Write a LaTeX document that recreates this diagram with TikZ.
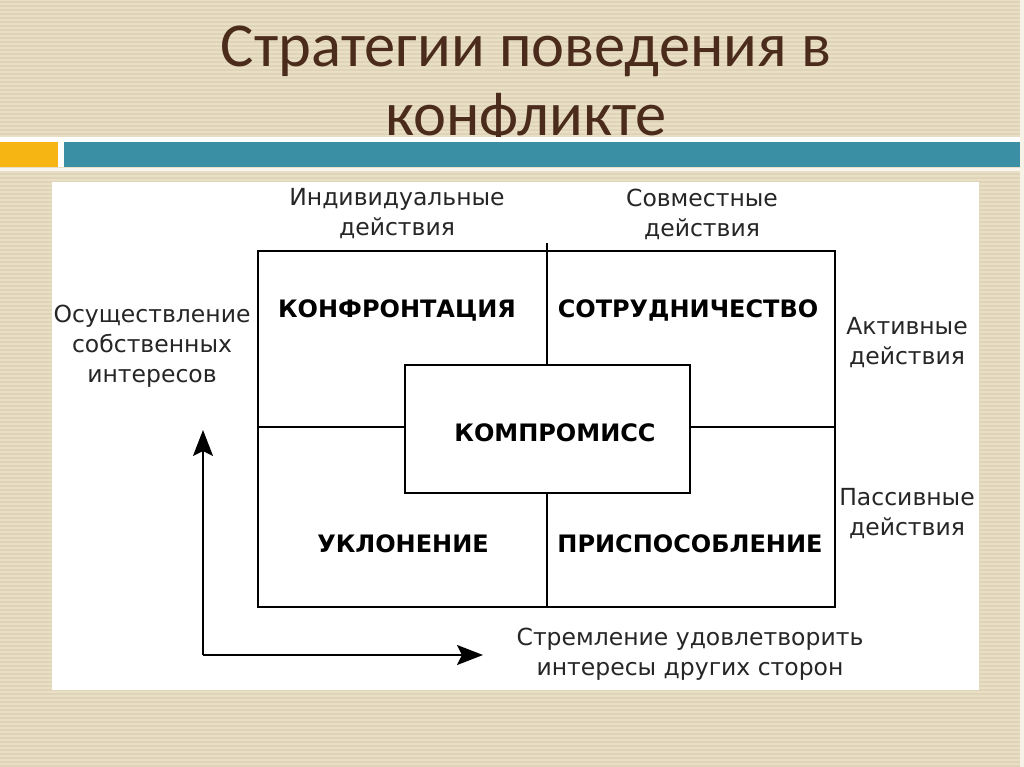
\documentclass[tikz,border=0pt]{standalone}
\usepackage{fontspec}
\setmainfont{DejaVu Sans}
\newfontfamily\titlefont{Carlito}
\newfontfamily\labfont{DejaVu Sans}
\usetikzlibrary{arrows.meta}
\definecolor{bgbeige}{HTML}{E9DFC6}
\definecolor{stripe}{HTML}{E0D4B8}
\definecolor{titlebrown}{HTML}{4B2B1B}
\definecolor{barorange}{HTML}{F6B512}
\definecolor{barteal}{HTML}{3A8FA5}
\tikzset{
  lab/.style={font=\labfont\fontsize{23.5}{30}\selectfont, align=center, text=black!85, inner sep=0pt},
  boldlab/.style={font=\bfseries\fontsize{24}{28}\selectfont, text=black, inner sep=0pt},
  frame/.style={draw=black, line width=1.8pt},
  axis/.style={draw=black, line width=1.8pt, -{Stealth[length=26pt,width=20pt,inset=5pt]}},
  titletxt/.style={font=\titlefont\fontsize{62.5}{70}\selectfont, text=titlebrown, inner sep=0pt, anchor=base}
}
\begin{document}
\begin{tikzpicture}[x=1pt,y=-1pt]
\useasboundingbox (0,0) rectangle (1024,767);
% background
\fill[bgbeige] (0,0) rectangle (1024,767);
\foreach \yy in {2,6,...,766} {\draw[stripe, line width=1.6pt] (0,\yy) -- (1024,\yy);}
% title
\node[titletxt] (t1) at (526,67) {Стратегии поведения в};
\node[titletxt] (t2) at (526,136) {конфликте};
% bars
\fill[white] (0,137) rectangle (1024,142);
\fill[barorange] (0,142) rectangle (58,167);
\fill[white] (58,142) rectangle (64,167);
\fill[barteal] (64,142) rectangle (1024,167);
\fill[white!70!bgbeige] (0,168) rectangle (1024,171);
\fill[white!60!bgbeige] (1020,0) rectangle (1024,767);
% panel
\fill[white] (52,182) rectangle (979,690);
% boxes
\node[frame, minimum width=577pt, minimum height=356pt, inner sep=0pt] (big) at (546.5,429) {};
\node[frame, fill=white, minimum width=285pt, minimum height=128pt, inner sep=0pt] (comp) at (547.5,429) {};
\coordinate (vtop) at (547,243);
\draw[frame] (vtop) -- (vtop |- comp.north);
\draw[frame] (vtop |- comp.south) -- (vtop |- big.south);
\draw[frame] (big.west |- 0,427) -- (comp.west |- 0,427);
\draw[frame] (comp.east |- 0,427) -- (big.east |- 0,427);
% labels in boxes
\node[boldlab] (konf) at (397,310) {КОНФРОНТАЦИЯ};
\node[boldlab] (sotr) at (688,310) {СОТРУДНИЧЕСТВО};
\node[boldlab] (kompl) at (555,433) {КОМПРОМИСС};
\node[boldlab] (ukl) at (403,544) {УКЛОНЕНИЕ};
\node[boldlab] (pris) at (690,544) {ПРИСПОСОБЛЕНИЕ};
% outer labels
\node[lab] (ind) at (397,214) {Индивидуальные\\действия};
\node[lab] (sov) at (702,214) {Совместные\\действия};
\node[lab] (osu) at (152,346) {Осуществление\\собственных\\интересов};
\node[lab] (akt) at (907,343) {Активные\\действия};
\node[lab] (pas) at (907,514) {Пассивные\\действия};
\node[lab] (str) at (690,654) {Стремление удовлетворить\\интересы других сторон};
% axes
\coordinate (origin) at (203,655);
\coordinate (ytip) at (203,430);
\coordinate (xtip) at (483,655);
\draw[axis] (origin) -- (ytip);
\draw[axis] (origin) -- (xtip);
\end{tikzpicture}
\end{document}
